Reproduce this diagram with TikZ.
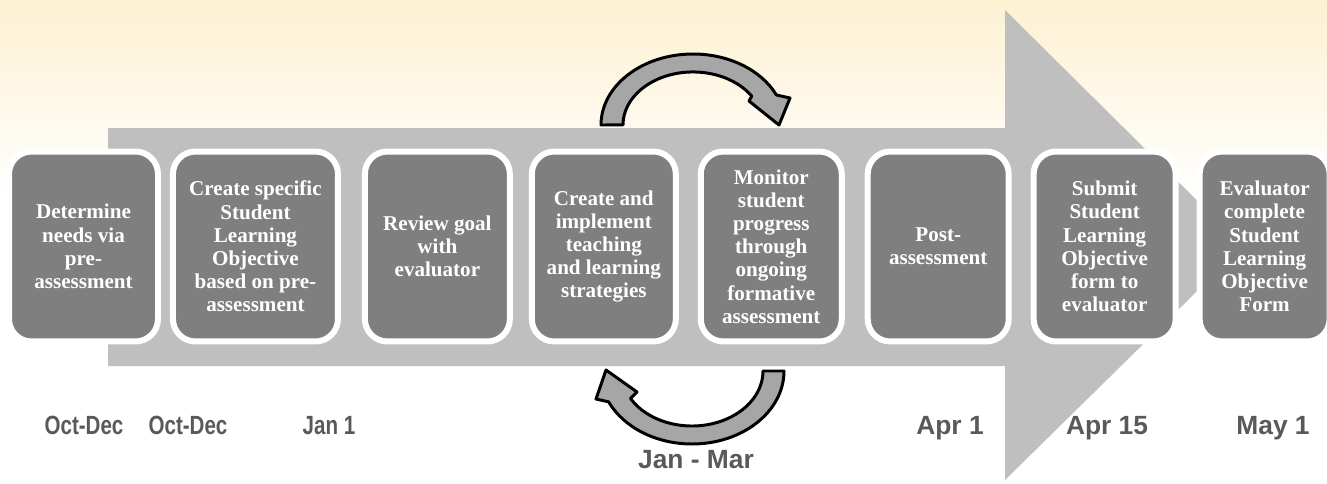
\documentclass[tikz,border=0pt]{standalone}
\usepackage{fontspec}
\setmainfont{Liberation Serif}
\newfontfamily\datefont{Liberation Sans}
\newfontfamily\narrowfont[FakeStretch=0.78]{Liberation Sans}
\usetikzlibrary{positioning}

\definecolor{cream}{HTML}{FDF1D2}
\definecolor{shaftgrey}{HTML}{BFBFBF}
\definecolor{boxgrey}{HTML}{7F7F7F}
\definecolor{loopgrey}{HTML}{A6A6A6}
\definecolor{dategrey}{HTML}{595959}

\begin{document}
\begin{tikzpicture}[x=0.02cm, y=-0.02cm,
	stepbox/.style = { draw=white, line width=3.4pt, fill=boxgrey,
			rounded corners=0.45cm, minimum height=3.8cm, inner sep=2pt,
			text=white, align=center,
			font=\bfseries\fontsize{12}{13.2}\selectfont },
	datestr/.style = { anchor=base, text=dategrey,
			font=\datefont\bfseries\fontsize{15}{18}\selectfont },
	narrowdate/.style = { datestr,
			font=\narrowfont\bfseries\fontsize{15}{18}\selectfont },
	cyclearrow/.style = { draw=black, line width=1.7pt, fill=loopgrey,
			line join=round }]

  \useasboundingbox (0,0) rectangle (1327,483);
  \shade[top color=cream, bottom color=white] (0,0) rectangle (1327,200);

  % the long timeline arrow behind the steps
  \fill[shaftgrey] (108,128) -- (1005,128) -- (1005,10) -- (1243,246)
    -- (1005,480) -- (1005,366) -- (108,366) -- cycle;

  \node[name=needs, stepbox, minimum width=2.98cm] at (83.5,246.5)
    {Determine\\ needs via\\ pre-\\ assessment};
  \node[name=slo, stepbox, minimum width=3.3cm, right=0.18cm of needs]
    {Create specific\\ Student\\ Learning\\ Objective\\ based on pre-\\ assessment};
  \node[name=review, stepbox, minimum width=2.9cm, right=0.42cm of slo]
    {Review goal\\ with\\ evaluator};
  \node[name=teach, stepbox, minimum width=2.88cm, right=0.32cm of review]
    {Create and\\ implement\\ teaching\\ and learning\\ strategies};
  \node[name=monitor, stepbox, minimum width=2.82cm, right=0.38cm of teach]
    {Monitor\\ student\\ progress\\ through\\ ongoing\\ formative\\ assessment};
  \node[name=post, stepbox, minimum width=2.82cm, right=0.4cm of monitor]
    {Post-\\ assessment};
  \node[name=submit, stepbox, minimum width=2.84cm, right=0.38cm of post]
    {Submit\\ Student\\ Learning\\ Objective\\ form to\\ evaluator};
  \node[name=complete, stepbox, minimum width=2.6cm, right=0.36cm of submit]
    {Evaluator\\ complete\\ Student\\ Learning\\ Objective\\ Form};

  % loop arrows between teaching and monitoring
  \path[cyclearrow] (601,125)
    arc[start angle=180, end angle=335, x radius=92, y radius=71]
    -- (790,98) -- (779,125) -- (749,101) -- (751.7,96.1)
    arc[start angle=327, end angle=180, x radius=70, y radius=53] -- cycle;
  \path[cyclearrow] (784,371)
    arc[start angle=0, end angle=155, x radius=92, y radius=73]
    -- (596,399) -- (606,370) -- (637,392) -- (630.5,398.5)
    arc[start angle=150, end angle=0, x radius=71, y radius=55] -- cycle;

  \node[name=octdec, narrowdate] at (84,434) {Oct-Dec};
  \node[name=octdec2, narrowdate] at (188,434) {Oct-Dec};
  \node[name=jan1, narrowdate] at (329,434) {Jan 1};
  \node[name=janmar, datestr] at (696,468) {Jan - Mar};
  \node[name=apr1, datestr] at (950,434) {Apr 1};
  \node[name=apr15, datestr] at (1107,434) {Apr 15};
  \node[name=may1, datestr] at (1273,434) {May 1};
\end{tikzpicture}
\end{document}
